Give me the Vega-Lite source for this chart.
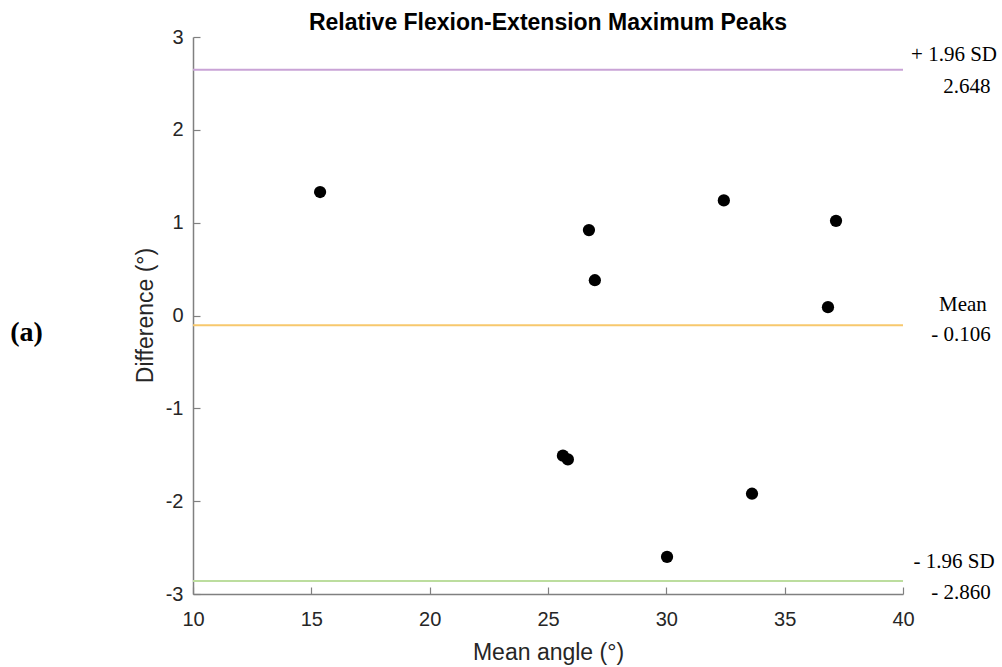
{
  "$schema": "https://vega.github.io/schema/vega-lite/v6.json",
  "width": 710,
  "height": 557,
  "autosize": {"type": "none"},
  "padding": {"left": 193, "top": 37, "right": 99, "bottom": 73},
  "background": "white",
  "config": {"view": {"stroke": null}, "font": "Liberation Sans"},
  "title": {"text": "Relative Flexion-Extension Maximum Peaks", "fontSize": 23, "fontWeight": "bold", "font": "Liberation Sans", "color": "#000000", "anchor": "middle", "offset": -8, "frame": "group"},
  "datasets": {
    "points": [
      {"mean": 15.37, "diff": 1.33},
      {"mean": 26.73, "diff": 0.92},
      {"mean": 26.98, "diff": 0.38},
      {"mean": 32.43, "diff": 1.24},
      {"mean": 37.17, "diff": 1.02},
      {"mean": 36.83, "diff": 0.09},
      {"mean": 25.63, "diff": -1.51},
      {"mean": 25.84, "diff": -1.55},
      {"mean": 33.62, "diff": -1.92},
      {"mean": 30.03, "diff": -2.6}
    ],
    "lines": [
      {"name": "upper", "value": 2.648},
      {"name": "mean", "value": -0.106},
      {"name": "lower", "value": -2.86}
    ],
    "labels": [
      {"label": "+ 1.96 SD", "x": 42.155, "y": 2.806},
      {"label": "2.648", "x": 42.7, "y": 2.461},
      {"label": "Mean", "x": 42.53, "y": 0.113},
      {"label": "- 0.106", "x": 42.45, "y": -0.21},
      {"label": "- 1.96 SD", "x": 42.155, "y": -2.655},
      {"label": "- 2.860", "x": 42.45, "y": -2.989}
    ],
    "panel": [
      {"label": "(a)", "x": 2.965, "y": -0.19}
    ]
  },
  "layer": [
    {
      "data": {"name": "lines"},
      "mark": {"type": "rule", "strokeWidth": 2},
      "encoding": {
        "y": {"field": "value", "type": "quantitative", "scale": {"domain": [-3, 3]}},
        "color": {"field": "name", "type": "nominal", "scale": {"domain": ["upper", "mean", "lower"], "range": ["#c9a3d6", "#f7c86d", "#bcdd9e"]}, "legend": null}
      }
    },
    {
      "data": {"name": "points"},
      "mark": {"type": "circle", "size": 150, "color": "#000000", "opacity": 1},
      "encoding": {
        "x": {"field": "mean", "type": "quantitative", "scale": {"domain": [10, 40], "nice": false, "zero": false},
          "axis": {"values": [10, 15, 20, 25, 30, 35, 40], "labelExpr": "'' + datum.value", "title": "Mean angle (°)", "titleFontSize": 23, "titleFontWeight": "normal", "titleColor": "#262626", "titleX": 355, "titleY": 58, "titleBaseline": "middle", "titleAlign": "center", "labelFontSize": 20, "labelColor": "#262626", "labelPadding": 22, "tickSize": -7, "tickColor": "#808080", "domainColor": "#808080", "domainWidth": 1.5, "tickWidth": 1.2, "grid": false, "labelFlush": false, "labelOverlap": false}},
        "y": {"field": "diff", "type": "quantitative", "scale": {"domain": [-3, 3], "nice": false, "zero": false},
          "axis": {"values": [-3, -2, -1, 0, 1, 2, 3], "labelExpr": "'' + datum.value", "title": "Difference (°)", "titleFontSize": 23, "titleFontWeight": "normal", "titleColor": "#262626", "titleX": -48, "titleY": 278, "titleAngle": 270, "titleBaseline": "middle", "titleAlign": "center", "labelFontSize": 20, "labelColor": "#262626", "labelPadding": 17, "tickSize": -7, "tickColor": "#808080", "domainColor": "#808080", "domainWidth": 1.5, "tickWidth": 1.2, "grid": false, "labelFlush": false, "labelOverlap": false}}
      }
    },
    {
      "data": {"name": "labels"},
      "mark": {"type": "text", "font": "Liberation Serif", "fontSize": 21, "color": "#000000", "align": "center", "baseline": "middle", "clip": false},
      "encoding": {
        "x": {"field": "x", "type": "quantitative"},
        "y": {"field": "y", "type": "quantitative"},
        "text": {"field": "label"}
      }
    },
    {
      "data": {"name": "panel"},
      "mark": {"type": "text", "font": "Liberation Serif", "fontSize": 28, "fontWeight": "bold", "color": "#000000", "align": "center", "baseline": "middle", "clip": false},
      "encoding": {
        "x": {"field": "x", "type": "quantitative"},
        "y": {"field": "y", "type": "quantitative"},
        "text": {"field": "label"}
      }
    }
  ]
}
